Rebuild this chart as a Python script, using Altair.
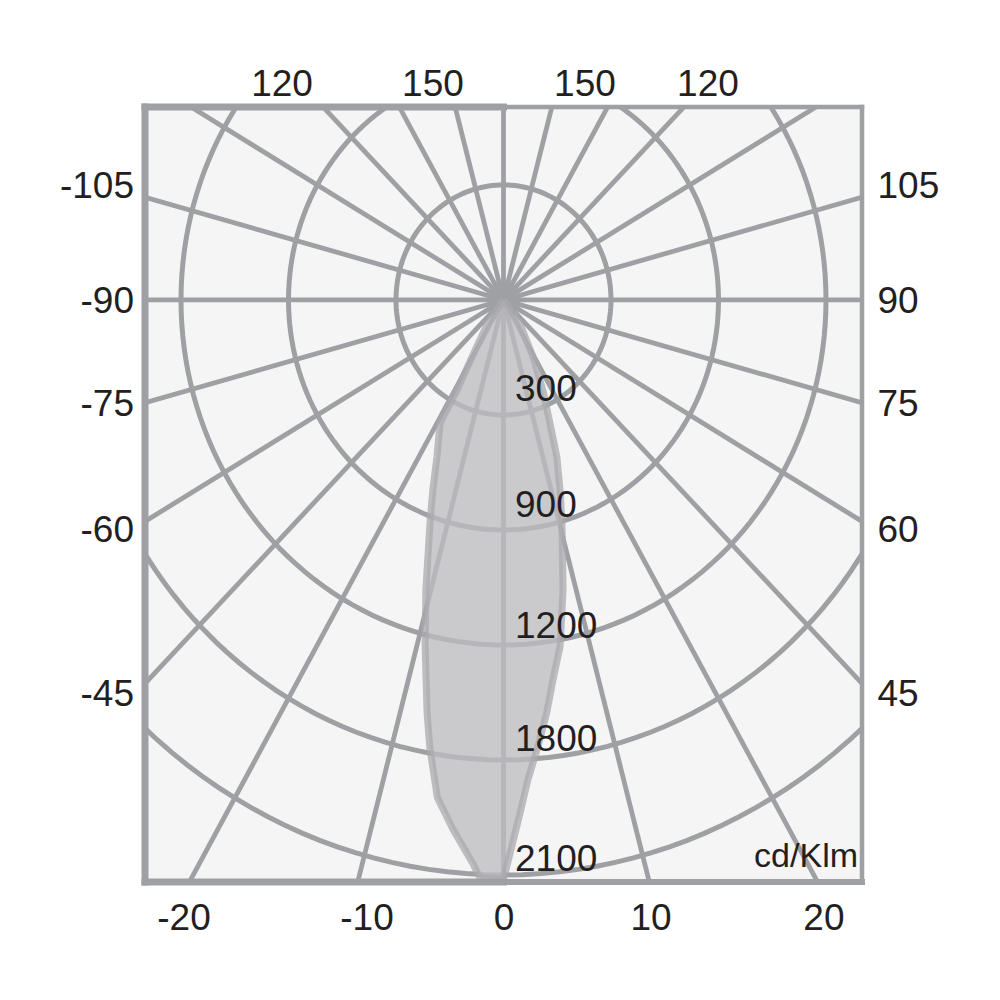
import altair as alt
import pandas as pd
import numpy as np

# ---------------- data ----------------
ring_radius = [1, 2, 3, 4, 5]
ring_labels = ["300", "900", "1200", "1800", "2100"]
spoke_angles = list(range(0, 360, 15))
left_labels = ["-105", "-90", "-75", "-60", "-45"]
right_labels = ["105", "90", "75", "60", "45"]
top_labels = ["120", "150", "150", "120"]
bottom_labels = ["-20", "-10", "0", "10", "20"]
unit_label = "cd/Klm"

# light distribution outline (angle from nadir in degrees, radius in ring units)
lobe_angle = [0, 37, 29, 25, 22, 20, 17.7, 15.7, 12.4, 9.9, 7.9, 6.4, 4.7, 3.1, 2.0, 0.9, 0,
              -2.5, -3.4, -5.8, -8.1, -10.0, -11.2, -13.6, -16.0, -19.4, -21.7, -24.4,
              -28.9, -28.9, -30.6, -35.8, 0]
lobe_r = [0, 0.25, 0.57, 0.87, 1.15, 1.45, 1.73, 2.01, 2.58, 3.06, 3.34, 3.61, 3.90, 4.18, 4.46, 4.76, 5.04,
          5.03, 4.90, 4.63, 4.37, 3.95, 3.66, 3.10, 2.62, 2.06, 1.78, 1.50,
          1.22, 0.89, 0.58, 0.25, 0]

# ---------------- layout ----------------
X_MIN, X_MAX = -3.335, 3.335
Y_MIN, Y_MAX = -5.061, 1.678
W, H = 717, 775
GRID = "#9fa0a4"
FONT = "Liberation Sans"
TXT = "#231f20"

left_label_y = [1.0, 0.0, -0.896, -1.991, -3.417]
top_label_x = [-2.060, -0.656, 0.758, 1.902]
bottom_label_x = [-2.972, -1.270, 0.005, 1.372, 2.981]
ring_label_y = [-0.765, -1.774, -2.826, -3.813, -4.848]

xs = alt.Scale(domain=[X_MIN, X_MAX], nice=False, zero=False)
ys = alt.Scale(domain=[Y_MIN, Y_MAX], nice=False, zero=False)


def X(f):
    return alt.X(f, type="quantitative", scale=xs, axis=None)


def Y(f):
    return alt.Y(f, type="quantitative", scale=ys, axis=None)


# rings
rows = []
for r in ring_radius:
    for i, t in enumerate(range(0, 362, 2)):
        rows.append({"ring": r, "i": i, "t": t})
rings_df = pd.DataFrame(rows)
rings = alt.Chart(rings_df).transform_calculate(
    x="datum.ring * sin(datum.t * PI / 180)",
    y="datum.ring * cos(datum.t * PI / 180)",
).mark_line(clip=True, stroke=GRID, strokeWidth=5).encode(
    x=X("x"), y=Y("y"), detail="ring:N", order="i:Q"
)

# spokes
spokes = alt.Chart(pd.DataFrame({"a": spoke_angles})).transform_calculate(
    x0="0", y0="0",
    x1="8 * sin(datum.a * PI / 180)",
    y1="-8 * cos(datum.a * PI / 180)",
).mark_rule(clip=True, stroke=GRID, strokeWidth=4.8).encode(
    x=X("x0"), y=Y("y0"), x2="x1:Q", y2="y1:Q"
)

# lobe
lobe_df = pd.DataFrame({"i": range(len(lobe_angle)), "a": lobe_angle, "r": lobe_r})
lobe = alt.Chart(lobe_df).transform_calculate(
    x="datum.r * sin(datum.a * PI / 180)",
    y="-datum.r * cos(datum.a * PI / 180)",
).mark_line(clip=True, fill="#bcbdc0", fillOpacity=0.77, stroke="#a9aaad",
            strokeOpacity=0.75, strokeWidth=7, strokeJoin="round").encode(
    x=X("x"), y=Y("y"), order="i:Q"
)

# frame
frame_df = pd.DataFrame([
    {"x": X_MIN, "y": Y_MAX, "x2": 0, "y2": Y_MAX, "w": 7},
    {"x": X_MIN, "y": Y_MAX, "x2": X_MIN, "y2": Y_MIN, "w": 7},
    {"x": X_MIN, "y": Y_MIN, "x2": 0, "y2": Y_MIN, "w": 7},
    {"x": 0, "y": Y_MAX, "x2": X_MAX, "y2": Y_MAX, "w": 4.5},
    {"x": X_MAX, "y": Y_MAX, "x2": X_MAX, "y2": Y_MIN, "w": 4.5},
    {"x": 0, "y": Y_MIN, "x2": X_MAX, "y2": Y_MIN, "w": 6},
])
frame = alt.Chart(frame_df).mark_rule(stroke=GRID, strokeCap="square").encode(
    x=X("x"), y=Y("y"), x2="x2:Q", y2="y2:Q", strokeWidth=alt.StrokeWidth("w:Q", scale=None)
)


def text_layer(labels, xv, yv, align, size=37, dy=2):
    df = pd.DataFrame({"label": labels, "x": xv, "y": yv})
    return alt.Chart(df).mark_text(
        font=FONT, fontSize=size, color=TXT, align=align, baseline="middle", dy=dy
    ).encode(x=X("x"), y=Y("y"), text="label:N")


t_left = text_layer(left_labels, [-3.437] * 5, left_label_y, "right")
t_right = text_layer(right_labels, [3.479] * 5, left_label_y, "left")
t_top = text_layer(top_labels, top_label_x, [1.883] * 4, "center")
t_bottom = text_layer(bottom_labels, bottom_label_x, [-5.365] * 5, "center")
t_ring = text_layer(ring_labels, [0.107] * 5, ring_label_y, "left")
t_unit = text_layer([unit_label], [3.298], [-4.826], "right", size=34)

chart = alt.layer(
    rings, spokes, lobe, frame, t_ring, t_unit, t_left, t_right, t_top, t_bottom
).properties(
    width=W, height=H,
    autosize=alt.AutoSizeParams(type="none"),
    padding={"left": 137, "top": 99, "right": 130, "bottom": 100},
    background="white",
).configure_view(fill="#f5f5f6", strokeWidth=0)

chart.save("out.html", embed_options={"renderer": "svg", "actions": False})
